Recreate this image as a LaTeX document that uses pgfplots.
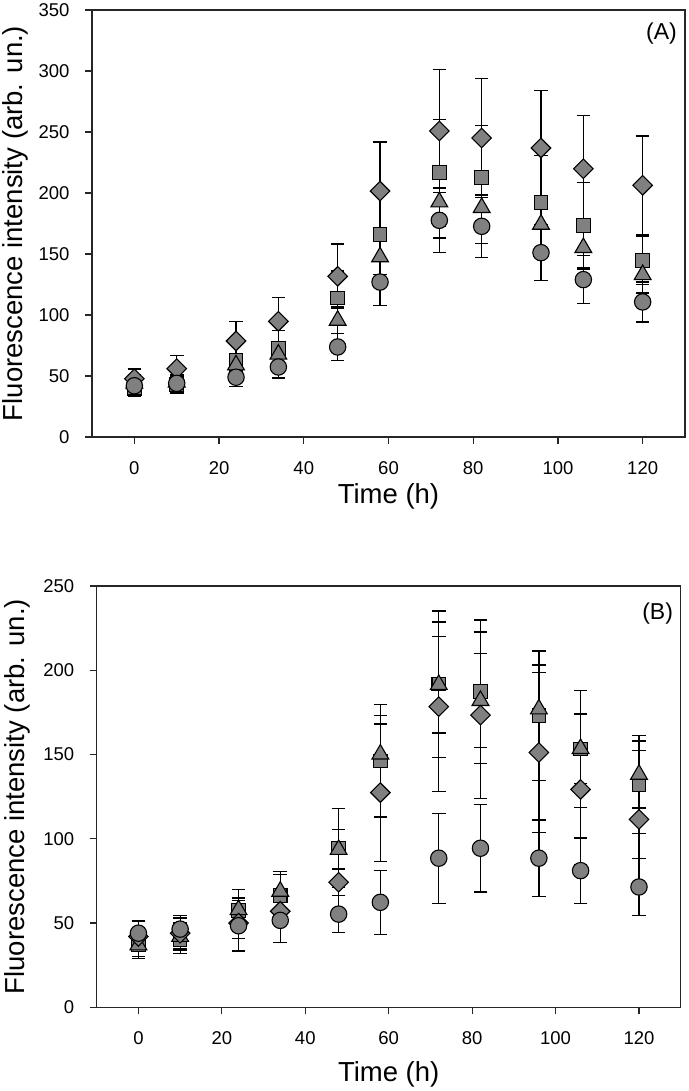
\documentclass[border=0pt]{standalone}
\usepackage{fontspec}
\setmainfont{Liberation Sans}
\usepackage{pgfplots}
\usepackage{pgfplotstable}
\pgfplotsset{compat=1.18}
\definecolor{mgray}{RGB}{128,128,128}

% panel A
\pgfplotstableread{
t y e
0 40 6
10 43 7
24 63 5
34 72.4 15
48 114 22
58 165.9 33
72 216.7 43.7
82 212.6 42.9
96 192.1 38.8
106 173.5 35
120 144.8 20
}\Asq
\pgfplotstableread{
t y e
0 44 5
10 45 6
24 59 5
34 67.8 8
48 95.6 11
58 147.6 20
72 192.6 29.5
82 188 29.5
96 174.3 20
106 155.2 18
120 133 15
}\Atri
\pgfplotstableread{
t y e
0 47.8 8
10 56 11
24 78.7 16
34 94.8 19.5
48 131.7 26.5
58 201.6 40.2
72 250.8 50.3
82 245.1 48.6
96 236.9 47.3
106 219.9 43.8
120 206.3 40.4
}\Adia
\pgfplotstableread{
t y e
0 42 9
10 44 7
24 49 7.6
34 57.4 9
48 73.8 11
58 127 19
72 177.6 26.5
82 172.7 25.7
96 151.1 22.7
106 129 19.7
120 110.7 16.4
}\Acir

% panel B
\pgfplotstableread{
t y e
0 37 8
10 40.1 8
24 57.5 12.3
34 66.3 12.5
48 94.6 23.4
58 146.2 33.3
72 191.8 43.4
82 187.3 42.6
96 173 38.5
106 153.2 34.7
120 132.3 29
}\Bsq
\pgfplotstableread{
t y e
0 37 7
10 42 8
24 57.9 7
34 68.8 12
48 93.6 12
58 150.2 22.8
72 191.5 28.7
82 182 28
96 177 26.2
106 153.5 20.6
120 138.2 19.9
}\Btri
\pgfplotstableread{
t y e
0 42 9
10 44 9
24 50 9
34 57 8
48 74.2 8
58 127.4 40.7
72 178.4 50.3
82 173.4 49.3
96 151.2 47.4
106 129.3 44.7
120 111.5 40.7
}\Bdia
\pgfplotstableread{
t y e
0 44 7.6
10 46.4 8
24 48.4 15
34 51.6 13
48 55.3 11
58 62.3 19
72 88.5 26.7
82 94.4 26
96 88.5 22.7
106 81.1 19.4
120 71.4 16.8
}\Bcir

\pgfplotsset{
  panel/.style={
    scale only axis,
    xmin=-10, xmax=130,
    ymin=0,
    xtick={0,20,...,120},
    axis line style={line width=1.2pt, black!85},
    tick style={line width=1.2pt, black!85},
    tick align=outside,
    major tick length=7pt,
    xtick pos=bottom, ytick pos=left,
    /pgf/number format/assume math mode=true,
    tick label style={font=\fontsize{18.5}{18.5}\selectfont},
    label style={font=\fontsize{27.5}{27.5}\selectfont},
    xlabel={Time (h)},
    ylabel={Fluorescence intensity (arb. un.)},
    yticklabel style={xshift=-12pt},
    xticklabel style={yshift=-14pt},
  },
  ser/.style={only marks, draw=black, fill=mgray, line width=1.1pt,
    error bars/y dir=both, error bars/y explicit,
    error bars/error bar style={line width=1.25pt, black},
    error bars/error mark options={rotate=90, mark size=6.8pt, line width=1.25pt, black}},
}

\begin{document}
\begin{tikzpicture}[x=1pt,y=1pt]
\useasboundingbox (0,0) rectangle (688,-1091);
\begin{axis}[panel, at={(92pt,-437pt)}, anchor=south west,
  width=593pt, height=427pt, ymax=350, ytick={0,50,...,350},
  xlabel style={at={(axis description cs:0.5,-0.138)}, anchor=center},
  ylabel style={at={(axis description cs:-0.13,0.5)}, anchor=center, rotate=0},
]
\addplot[ser, mark=square*, mark size=6.8pt] table[x=t,y=y,y error=e] {\Asq};
\addplot[ser, mark=triangle*, mark size=9.7pt] table[x=t,y=y,y error=e] {\Atri};
\addplot[ser, mark=square*, mark size=6.9pt, mark options={rotate=45}] table[x=t,y=y,y error=e] {\Adia};
\addplot[ser, mark=*, mark size=8.2pt] table[x=t,y=y,y error=e] {\Acir};
\node[anchor=east, inner sep=0pt, font=\fontsize{23}{23}\selectfont] at (rel axis cs:0.9865,0.945) {(A)};
\end{axis}

\begin{axis}[panel, at={(96.7pt,-1007.3pt)}, anchor=south west,
  width=584pt, height=421.3pt, ymax=250, ytick={0,50,...,250},
  xlabel style={at={(axis description cs:0.5,-0.1595)}, anchor=center},
  ylabel style={at={(axis description cs:-0.135,0.5)}, anchor=center, rotate=0},
]
\addplot[ser, mark=square*, mark size=6.8pt] table[x=t,y=y,y error=e] {\Bsq};
\addplot[ser, mark=triangle*, mark size=9.7pt] table[x=t,y=y,y error=e] {\Btri};
\addplot[ser, mark=square*, mark size=6.9pt, mark options={rotate=45}] table[x=t,y=y,y error=e] {\Bdia};
\addplot[ser, mark=*, mark size=8.2pt] table[x=t,y=y,y error=e] {\Bcir};
\node[anchor=east, inner sep=0pt, font=\fontsize{23}{23}\selectfont] at (rel axis cs:0.987,0.9335) {(B)};
\end{axis}
\end{tikzpicture}
\end{document}
